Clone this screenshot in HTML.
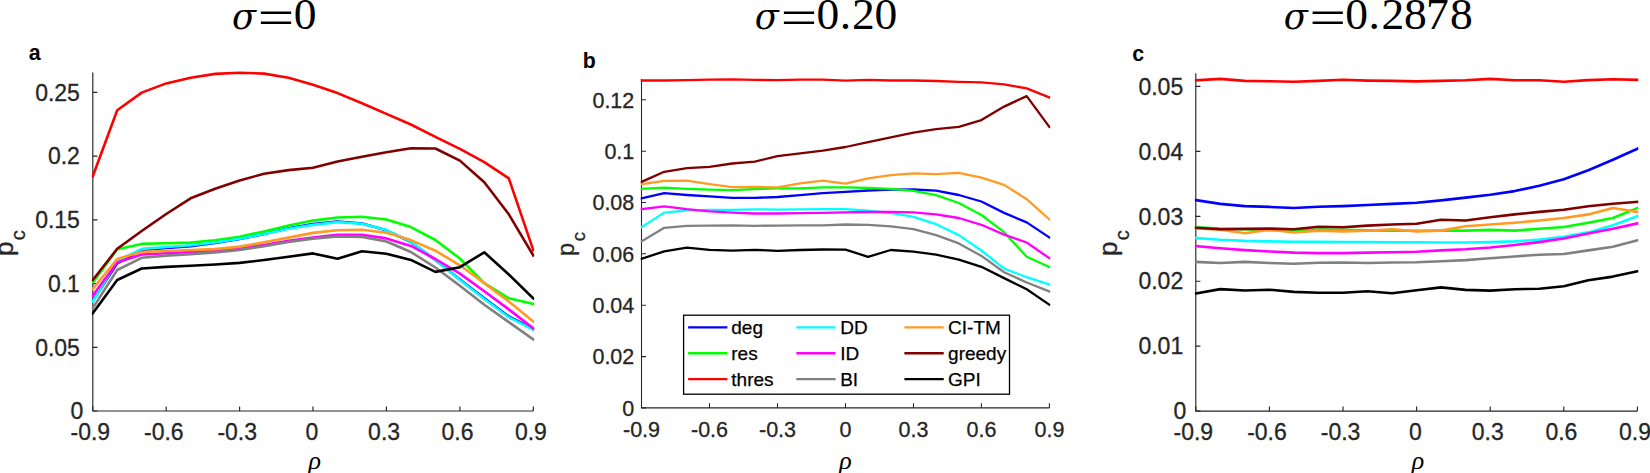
<!DOCTYPE html>
<html lang="en"><head><meta charset="utf-8"><title>p_c versus rho</title>
<style>html,body{margin:0;padding:0;background:#fff}body{width:1650px;height:473px;overflow:hidden}svg{display:block}</style>
</head><body>
<svg width="1650" height="473" viewBox="0 0 1650 473">
<rect width="1650" height="473" fill="#ffffff"/>
<g id="panel-a">
<g stroke="#262626" stroke-width="1.15" fill="none">
<path d="M92.8 72.4V411.0H533.3"/>
<path d="M92.8 411.0v-4.6M166.2 411.0v-4.6M239.6 411.0v-4.6M313.0 411.0v-4.6M386.4 411.0v-4.6M459.9 411.0v-4.6M533.3 411.0v-4.6M92.8 411.0h4.6M92.8 347.3h4.6M92.8 283.6h4.6M92.8 219.8h4.6M92.8 156.1h4.6M92.8 92.4h4.6"/>
</g>
<clipPath id="clip-a"><rect x="91.75" y="68.4" width="442.55" height="342.6"/></clipPath>
<g fill="none" stroke-width="2.6" stroke-linejoin="round" stroke-linecap="square" clip-path="url(#clip-a)">
<polyline stroke="#0000ff" points="92.8,300.6 117.2,263.3 141.7,250.0 166.2,248.0 190.6,246.2 215.1,243.0 239.6,239.0 264.1,234.0 288.5,228.3 313.0,224.0 337.5,221.5 362.0,223.5 386.4,230.3 410.9,242.0 435.4,260.0 459.9,279.4 484.3,298.3 508.8,316.5 533.3,329.1"/>
<polyline stroke="#00ff00" points="92.8,282.4 117.2,249.3 141.7,243.9 166.2,243.2 190.6,242.6 215.1,240.3 239.6,236.8 264.1,231.4 288.5,225.6 313.0,220.6 337.5,217.5 362.0,216.8 386.4,219.5 410.9,227.1 435.4,240.0 459.9,258.5 484.3,283.1 508.8,298.3 533.3,304.0"/>
<polyline stroke="#ff0000" points="92.8,176.3 117.2,110.3 141.7,92.6 166.2,83.4 190.6,77.8 215.1,73.9 239.6,72.7 264.1,73.6 288.5,77.8 313.0,84.7 337.5,93.1 362.0,103.2 386.4,113.9 410.9,124.5 435.4,136.9 459.9,148.8 484.3,162.1 508.8,178.4 533.3,250.1"/>
<polyline stroke="#00ffff" points="92.8,301.5 117.2,260.9 141.7,248.9 166.2,247.0 190.6,245.2 215.1,242.5 239.6,238.7 264.1,234.0 288.5,228.8 313.0,224.9 337.5,222.1 362.0,223.8 386.4,230.1 410.9,241.8 435.4,260.0 459.9,280.0 484.3,299.0 508.8,317.2 533.3,329.8"/>
<polyline stroke="#ff00ff" points="92.8,295.6 117.2,262.4 141.7,254.5 166.2,253.3 190.6,252.0 215.1,250.8 239.6,248.3 264.1,245.0 288.5,240.8 313.0,237.6 337.5,234.8 362.0,234.8 386.4,238.4 410.9,245.9 435.4,259.0 459.9,273.6 484.3,291.3 508.8,309.4 533.3,328.4"/>
<polyline stroke="#808080" points="92.8,308.2 117.2,270.0 141.7,257.8 166.2,255.6 190.6,254.1 215.1,252.4 239.6,249.9 264.1,246.2 288.5,242.0 313.0,238.6 337.5,236.5 362.0,236.9 386.4,241.5 410.9,252.0 435.4,267.5 459.9,285.7 484.3,304.7 508.8,322.1 533.3,339.5"/>
<polyline stroke="#ff9a24" points="92.8,289.1 117.2,259.0 141.7,251.9 166.2,251.0 190.6,250.0 215.1,249.1 239.6,246.6 264.1,242.3 288.5,237.6 313.0,232.9 337.5,230.2 362.0,229.7 386.4,232.8 410.9,240.1 435.4,250.7 459.9,265.3 484.3,283.1 508.8,301.5 533.3,321.5"/>
<polyline stroke="#800000" points="92.8,280.0 117.2,248.8 141.7,231.0 166.2,214.0 190.6,198.3 215.1,188.7 239.6,180.4 264.1,173.8 288.5,170.1 313.0,167.7 337.5,161.5 362.0,156.8 386.4,152.3 410.9,148.2 435.4,148.5 459.9,160.6 484.3,182.2 508.8,214.3 533.3,255.5"/>
<polyline stroke="#000000" points="92.8,313.3 117.2,280.0 141.7,268.5 166.2,266.9 190.6,265.7 215.1,264.5 239.6,262.9 264.1,260.0 288.5,256.7 313.0,253.4 337.5,258.7 362.0,251.3 386.4,253.7 410.9,259.9 435.4,271.9 459.9,267.2 484.3,252.3 508.8,274.5 533.3,298.3"/>
</g>
<g font-family="Liberation Sans, Arial, sans-serif" font-size="23" fill="#262626" stroke="#262626" stroke-width="0.3">
<text x="90.3" y="439.6" text-anchor="middle">-0.9</text>
<text x="163.8" y="439.6" text-anchor="middle">-0.6</text>
<text x="237.2" y="439.6" text-anchor="middle">-0.3</text>
<text x="311.8" y="439.6" text-anchor="middle">0</text>
<text x="384.1" y="439.6" text-anchor="middle">0.3</text>
<text x="457.5" y="439.6" text-anchor="middle">0.6</text>
<text x="530.9" y="439.6" text-anchor="middle">0.9</text>
<text x="83.3" y="419.2" text-anchor="end">0</text>
<text x="79.9" y="355.5" text-anchor="end">0.05</text>
<text x="79.9" y="291.8" text-anchor="end">0.1</text>
<text x="79.9" y="228.0" text-anchor="end">0.15</text>
<text x="79.9" y="164.3" text-anchor="end">0.2</text>
<text x="79.9" y="100.6" text-anchor="end">0.25</text>
</g>
</g>
<g id="panel-b">
<g stroke="#262626" stroke-width="1.06" fill="none">
<path d="M641.5 78.9V407.9H1049.4"/>
<path d="M641.5 407.9v-4.6M709.5 407.9v-4.6M777.5 407.9v-4.6M845.5 407.9v-4.6M913.5 407.9v-4.6M981.4 407.9v-4.6M1049.4 407.9v-4.6M641.5 407.9h4.6M641.5 356.6h4.6M641.5 305.2h4.6M641.5 253.8h4.6M641.5 202.5h4.6M641.5 151.2h4.6M641.5 99.8h4.6"/>
</g>
<clipPath id="clip-b"><rect x="640.55" y="74.9" width="409.85" height="333.0"/></clipPath>
<g fill="none" stroke-width="2.3" stroke-linejoin="round" stroke-linecap="square" clip-path="url(#clip-b)">
<polyline stroke="#0000ff" points="641.5,198.4 664.2,193.1 686.9,195.0 709.5,196.4 732.2,197.8 754.8,197.8 777.5,197.0 800.2,195.2 822.8,193.2 845.5,191.8 868.1,190.5 890.8,189.7 913.5,189.5 936.1,190.6 958.8,195.0 981.4,201.5 1004.1,212.9 1026.7,222.4 1049.4,237.5"/>
<polyline stroke="#00ff00" points="641.5,188.8 664.2,187.7 686.9,188.8 709.5,189.6 732.2,190.2 754.8,189.1 777.5,188.3 800.2,188.3 822.8,187.4 845.5,187.3 868.1,188.0 890.8,188.9 913.5,190.8 936.1,195.2 958.8,203.0 981.4,215.0 1004.1,232.2 1026.7,256.8 1049.4,267.1"/>
<polyline stroke="#ff0000" points="641.5,80.5 664.2,80.5 686.9,80.2 709.5,79.6 732.2,79.4 754.8,79.9 777.5,80.2 800.2,79.6 822.8,79.6 845.5,80.7 868.1,79.9 890.8,80.5 913.5,80.5 936.1,81.0 958.8,81.8 981.4,82.4 1004.1,84.3 1026.7,88.4 1049.4,97.5"/>
<polyline stroke="#00ffff" points="641.5,227.2 664.2,212.6 686.9,210.4 709.5,209.9 732.2,209.9 754.8,209.3 777.5,209.6 800.2,209.3 822.8,209.1 845.5,209.2 868.1,210.6 890.8,212.9 913.5,216.8 936.1,224.2 958.8,235.1 981.4,250.5 1004.1,268.6 1026.7,277.2 1049.4,284.6"/>
<polyline stroke="#ff00ff" points="641.5,209.1 664.2,206.3 686.9,209.1 709.5,211.3 732.2,212.6 754.8,213.5 777.5,213.5 800.2,213.2 822.8,212.9 845.5,212.3 868.1,212.0 890.8,212.0 913.5,212.3 936.1,214.4 958.8,218.0 981.4,224.8 1004.1,234.6 1026.7,242.5 1049.4,258.2"/>
<polyline stroke="#808080" points="641.5,241.5 664.2,227.8 686.9,225.8 709.5,225.6 732.2,225.3 754.8,225.8 777.5,225.6 800.2,225.3 822.8,225.3 845.5,224.5 868.1,224.8 890.8,226.3 913.5,229.2 936.1,235.1 958.8,243.4 981.4,255.9 1004.1,272.2 1026.7,282.5 1049.4,291.4"/>
<polyline stroke="#ff9a24" points="641.5,184.1 664.2,180.8 686.9,180.6 709.5,184.1 732.2,187.2 754.8,186.9 777.5,187.4 800.2,183.3 822.8,180.6 845.5,183.7 868.1,178.3 890.8,175.2 913.5,173.3 936.1,174.1 958.8,172.8 981.4,177.6 1004.1,184.9 1026.7,199.2 1049.4,219.5"/>
<polyline stroke="#800000" points="641.5,181.9 664.2,171.8 686.9,168.2 709.5,166.8 732.2,163.5 754.8,161.6 777.5,156.1 800.2,153.3 822.8,150.6 845.5,147.0 868.1,142.1 890.8,137.4 913.5,132.7 936.1,129.1 958.8,126.9 981.4,120.1 1004.1,106.6 1026.7,96.1 1049.4,126.9"/>
<polyline stroke="#000000" points="641.5,258.8 664.2,251.4 686.9,247.6 709.5,249.8 732.2,250.6 754.8,249.8 777.5,250.9 800.2,250.0 822.8,249.5 845.5,249.6 868.1,256.8 890.8,250.0 913.5,251.7 936.1,254.7 958.8,259.7 981.4,266.8 1004.1,278.1 1026.7,289.3 1049.4,304.7"/>
</g>
<g font-family="Liberation Sans, Arial, sans-serif" font-size="21.5" fill="#262626" stroke="#262626" stroke-width="0.3">
<text x="641.5" y="436.9" text-anchor="middle">-0.9</text>
<text x="709.5" y="436.9" text-anchor="middle">-0.6</text>
<text x="777.5" y="436.9" text-anchor="middle">-0.3</text>
<text x="845.5" y="436.9" text-anchor="middle">0</text>
<text x="913.5" y="436.9" text-anchor="middle">0.3</text>
<text x="981.4" y="436.9" text-anchor="middle">0.6</text>
<text x="1049.4" y="436.9" text-anchor="middle">0.9</text>
<text x="634.3" y="415.6" text-anchor="end">0</text>
<text x="634.3" y="364.2" text-anchor="end">0.02</text>
<text x="634.3" y="312.9" text-anchor="end">0.04</text>
<text x="634.3" y="261.5" text-anchor="end">0.06</text>
<text x="634.3" y="210.2" text-anchor="end">0.08</text>
<text x="634.3" y="158.8" text-anchor="end">0.1</text>
<text x="634.3" y="107.5" text-anchor="end">0.12</text>
</g>
</g>
<g id="panel-c">
<g stroke="#262626" stroke-width="1.15" fill="none">
<path d="M1195.8 73.2V411.1H1637.4"/>
<path d="M1195.8 411.1v-4.6M1269.4 411.1v-4.6M1343.0 411.1v-4.6M1416.6 411.1v-4.6M1490.2 411.1v-4.6M1563.8 411.1v-4.6M1637.4 411.1v-4.6M1195.8 411.1h4.6M1195.8 346.1h4.6M1195.8 281.2h4.6M1195.8 216.3h4.6M1195.8 151.3h4.6M1195.8 86.4h4.6"/>
</g>
<clipPath id="clip-c"><rect x="1194.75" y="69.2" width="443.65" height="341.9"/></clipPath>
<g fill="none" stroke-width="2.6" stroke-linejoin="round" stroke-linecap="square" clip-path="url(#clip-c)">
<polyline stroke="#0000ff" points="1195.8,200.1 1220.3,203.9 1244.8,206.1 1269.4,206.9 1293.9,208.0 1318.4,206.7 1343.0,206.1 1367.5,205.0 1392.0,203.9 1416.6,202.7 1441.1,200.4 1465.6,197.6 1490.2,194.7 1514.7,191.1 1539.3,185.7 1563.8,179.2 1588.3,170.2 1612.9,159.8 1637.4,148.7"/>
<polyline stroke="#00ff00" points="1195.8,227.2 1220.3,228.6 1244.8,229.3 1269.4,230.1 1293.9,230.4 1318.4,229.6 1343.0,229.9 1367.5,230.4 1392.0,230.7 1416.6,230.7 1441.1,230.6 1465.6,230.6 1490.2,229.9 1514.7,230.6 1539.3,228.8 1563.8,227.0 1588.3,222.7 1612.9,218.0 1637.4,208.1"/>
<polyline stroke="#ff0000" points="1195.8,80.3 1220.3,78.9 1244.8,80.9 1269.4,81.2 1293.9,81.7 1318.4,80.9 1343.0,79.8 1367.5,80.6 1392.0,80.9 1416.6,81.4 1441.1,80.9 1465.6,80.3 1490.2,78.9 1514.7,80.3 1539.3,80.3 1563.8,81.7 1588.3,80.1 1612.9,79.2 1637.4,79.8"/>
<polyline stroke="#00ffff" points="1195.8,238.0 1220.3,239.8 1244.8,240.9 1269.4,241.4 1293.9,241.8 1318.4,241.9 1343.0,242.0 1367.5,242.0 1392.0,242.2 1416.6,242.3 1441.1,242.5 1465.6,242.5 1490.2,242.1 1514.7,241.4 1539.3,239.6 1563.8,236.7 1588.3,232.4 1612.9,225.2 1637.4,216.2"/>
<polyline stroke="#ff00ff" points="1195.8,246.0 1220.3,248.2 1244.8,250.1 1269.4,251.5 1293.9,252.6 1318.4,253.1 1343.0,253.1 1367.5,252.6 1392.0,252.3 1416.6,251.7 1441.1,250.4 1465.6,249.3 1490.2,247.5 1514.7,245.0 1539.3,242.1 1563.8,238.5 1588.3,233.5 1612.9,228.8 1637.4,223.4"/>
<polyline stroke="#808080" points="1195.8,261.9 1220.3,263.0 1244.8,261.9 1269.4,263.0 1293.9,263.8 1318.4,262.7 1343.0,262.5 1367.5,263.0 1392.0,262.5 1416.6,262.2 1441.1,261.2 1465.6,260.1 1490.2,258.3 1514.7,256.5 1539.3,254.7 1563.8,254.0 1588.3,250.4 1612.9,246.8 1637.4,240.3"/>
<polyline stroke="#ff9a24" points="1195.8,228.2 1220.3,229.6 1244.8,233.3 1269.4,229.6 1293.9,232.5 1318.4,230.7 1343.0,231.4 1367.5,230.8 1392.0,229.3 1416.6,231.4 1441.1,230.6 1465.6,226.3 1490.2,224.5 1514.7,222.7 1539.3,220.5 1563.8,218.0 1588.3,214.4 1612.9,208.0 1637.4,211.9"/>
<polyline stroke="#800000" points="1195.8,227.7 1220.3,229.3 1244.8,228.9 1269.4,228.6 1293.9,229.3 1318.4,226.7 1343.0,227.2 1367.5,225.6 1392.0,224.5 1416.6,223.7 1441.1,219.8 1465.6,220.5 1490.2,217.3 1514.7,214.4 1539.3,211.9 1563.8,209.8 1588.3,206.2 1612.9,203.7 1637.4,201.9"/>
<polyline stroke="#000000" points="1195.8,293.5 1220.3,289.1 1244.8,290.5 1269.4,289.7 1293.9,291.9 1318.4,292.7 1343.0,292.7 1367.5,291.3 1392.0,293.3 1416.6,290.3 1441.1,287.4 1465.6,289.9 1490.2,290.6 1514.7,289.2 1539.3,288.8 1563.8,286.3 1588.3,280.2 1612.9,276.6 1637.4,271.2"/>
</g>
<g font-family="Liberation Sans, Arial, sans-serif" font-size="23" fill="#262626" stroke="#262626" stroke-width="0.3">
<text x="1193.3" y="439.7" text-anchor="middle">-0.9</text>
<text x="1267.0" y="439.7" text-anchor="middle">-0.6</text>
<text x="1340.6" y="439.7" text-anchor="middle">-0.3</text>
<text x="1415.4" y="439.7" text-anchor="middle">0</text>
<text x="1487.8" y="439.7" text-anchor="middle">0.3</text>
<text x="1561.4" y="439.7" text-anchor="middle">0.6</text>
<text x="1635.0" y="439.7" text-anchor="middle">0.9</text>
<text x="1186.4" y="419.3" text-anchor="end">0</text>
<text x="1183.2" y="354.3" text-anchor="end">0.01</text>
<text x="1183.2" y="289.4" text-anchor="end">0.02</text>
<text x="1183.2" y="224.5" text-anchor="end">0.03</text>
<text x="1183.2" y="159.5" text-anchor="end">0.04</text>
<text x="1183.2" y="94.6" text-anchor="end">0.05</text>
</g>
</g>
<g font-family="Liberation Sans, Arial, sans-serif" font-weight="bold" font-size="21.3" fill="#000">
<text x="28.8" y="60.2">a</text>
<text x="582.7" y="68.3">b</text>
<text x="1132.3" y="61.2">c</text>
</g>
<text transform="translate(13.4 256.0) rotate(-90)" font-family="Liberation Sans, Arial, sans-serif" font-size="25.8" fill="#262626" stroke="#262626" stroke-width="0.3">p<tspan x="15.8" y="11.9" font-size="20.2">c</tspan></text>
<text transform="translate(574.0 256.1) rotate(-90)" font-family="Liberation Sans, Arial, sans-serif" font-size="23.6" fill="#262626" stroke="#262626" stroke-width="0.3">p<tspan x="14.8" y="11.0" font-size="18.6">c</tspan></text>
<text transform="translate(1116.8 256.0) rotate(-90)" font-family="Liberation Sans, Arial, sans-serif" font-size="25.8" fill="#262626" stroke="#262626" stroke-width="0.3">p<tspan x="15.8" y="12.2" font-size="20.2">c</tspan></text>
<text x="314.7" y="469" text-anchor="middle" font-family="Liberation Serif, Times New Roman, serif" font-style="italic" font-size="26" fill="#000">ρ</text>
<text x="845.5" y="469" text-anchor="middle" font-family="Liberation Serif, Times New Roman, serif" font-style="italic" font-size="26" fill="#000">ρ</text>
<text x="1418.0" y="469" text-anchor="middle" font-family="Liberation Serif, Times New Roman, serif" font-style="italic" font-size="26" fill="#000">ρ</text>
<text transform="scale(1.045 1)" y="29.1" font-family="Liberation Serif, Times New Roman, serif" fill="#000" font-size="43.6"><tspan x="222.01" y="29.2" font-family="DejaVu Serif, Liberation Serif, serif" font-style="italic" font-size="35.5" textLength="22.97" lengthAdjust="spacingAndGlyphs">σ</tspan><tspan x="244.78" y="37.4" font-family="DejaVu Sans, Liberation Sans, sans-serif" font-weight="200" font-size="63" textLength="38.76" lengthAdjust="spacingAndGlyphs">=</tspan><tspan x="281.05" y="29.1">0</tspan></text>
<text transform="scale(1.045 1)" y="29.1" font-family="Liberation Serif, Times New Roman, serif" fill="#000" font-size="43.6"><tspan x="722.20" y="29.2" font-family="DejaVu Serif, Liberation Serif, serif" font-style="italic" font-size="35.5" textLength="22.97" lengthAdjust="spacingAndGlyphs">σ</tspan><tspan x="745.26" y="37.4" font-family="DejaVu Sans, Liberation Sans, sans-serif" font-weight="200" font-size="63" textLength="38.76" lengthAdjust="spacingAndGlyphs">=</tspan><tspan x="781.24 803.54 815.41 836.94" y="29.1">0.20</tspan></text>
<text transform="scale(1.045 1)" y="29.1" font-family="Liberation Serif, Times New Roman, serif" fill="#000" font-size="43.6"><tspan x="1228.42" y="29.2" font-family="DejaVu Serif, Liberation Serif, serif" font-style="italic" font-size="35.5" textLength="22.97" lengthAdjust="spacingAndGlyphs">σ</tspan><tspan x="1251.29" y="37.4" font-family="DejaVu Sans, Liberation Sans, sans-serif" font-weight="200" font-size="63" textLength="38.76" lengthAdjust="spacingAndGlyphs">=</tspan><tspan x="1287.27 1309.57 1322.01 1343.54 1364.59 1387.56" y="29.1">0.2878</tspan></text>
<g id="legend">
<rect x="683.6" y="315.2" width="325.9" height="79" fill="#fff" stroke="#000" stroke-width="1.3"/>
<line x1="688.1" y1="327.4" x2="727.4" y2="327.4" stroke="#0000ff" stroke-width="2.4"/>
<text x="731.3" y="334.3" font-family="Liberation Sans, Arial, sans-serif" font-size="19" fill="#000" stroke="#000" stroke-width="0.25">deg</text>
<line x1="688.1" y1="353.3" x2="727.4" y2="353.3" stroke="#00ff00" stroke-width="2.4"/>
<text x="731.3" y="360.2" font-family="Liberation Sans, Arial, sans-serif" font-size="19" fill="#000" stroke="#000" stroke-width="0.25">res</text>
<line x1="688.1" y1="379.1" x2="727.4" y2="379.1" stroke="#ff0000" stroke-width="2.4"/>
<text x="731.3" y="386.0" font-family="Liberation Sans, Arial, sans-serif" font-size="19" fill="#000" stroke="#000" stroke-width="0.25">thres</text>
<line x1="796.3" y1="327.4" x2="835.6" y2="327.4" stroke="#00ffff" stroke-width="2.4"/>
<text x="840.2" y="334.3" font-family="Liberation Sans, Arial, sans-serif" font-size="19" fill="#000" stroke="#000" stroke-width="0.25">DD</text>
<line x1="796.3" y1="353.3" x2="835.6" y2="353.3" stroke="#ff00ff" stroke-width="2.4"/>
<text x="840.2" y="360.2" font-family="Liberation Sans, Arial, sans-serif" font-size="19" fill="#000" stroke="#000" stroke-width="0.25">ID</text>
<line x1="796.3" y1="379.1" x2="835.6" y2="379.1" stroke="#808080" stroke-width="2.4"/>
<text x="840.2" y="386.0" font-family="Liberation Sans, Arial, sans-serif" font-size="19" fill="#000" stroke="#000" stroke-width="0.25">BI</text>
<line x1="904.4" y1="327.4" x2="943.7" y2="327.4" stroke="#ff9a24" stroke-width="2.4"/>
<text x="948.1" y="334.3" font-family="Liberation Sans, Arial, sans-serif" font-size="19" fill="#000" stroke="#000" stroke-width="0.25">CI-TM</text>
<line x1="904.4" y1="353.3" x2="943.7" y2="353.3" stroke="#800000" stroke-width="2.4"/>
<text x="948.1" y="360.2" font-family="Liberation Sans, Arial, sans-serif" font-size="19" fill="#000" stroke="#000" stroke-width="0.25">greedy</text>
<line x1="904.4" y1="379.1" x2="943.7" y2="379.1" stroke="#000000" stroke-width="2.4"/>
<text x="948.1" y="386.0" font-family="Liberation Sans, Arial, sans-serif" font-size="19" fill="#000" stroke="#000" stroke-width="0.25">GPI</text>
</g>
</svg>
</body></html>
